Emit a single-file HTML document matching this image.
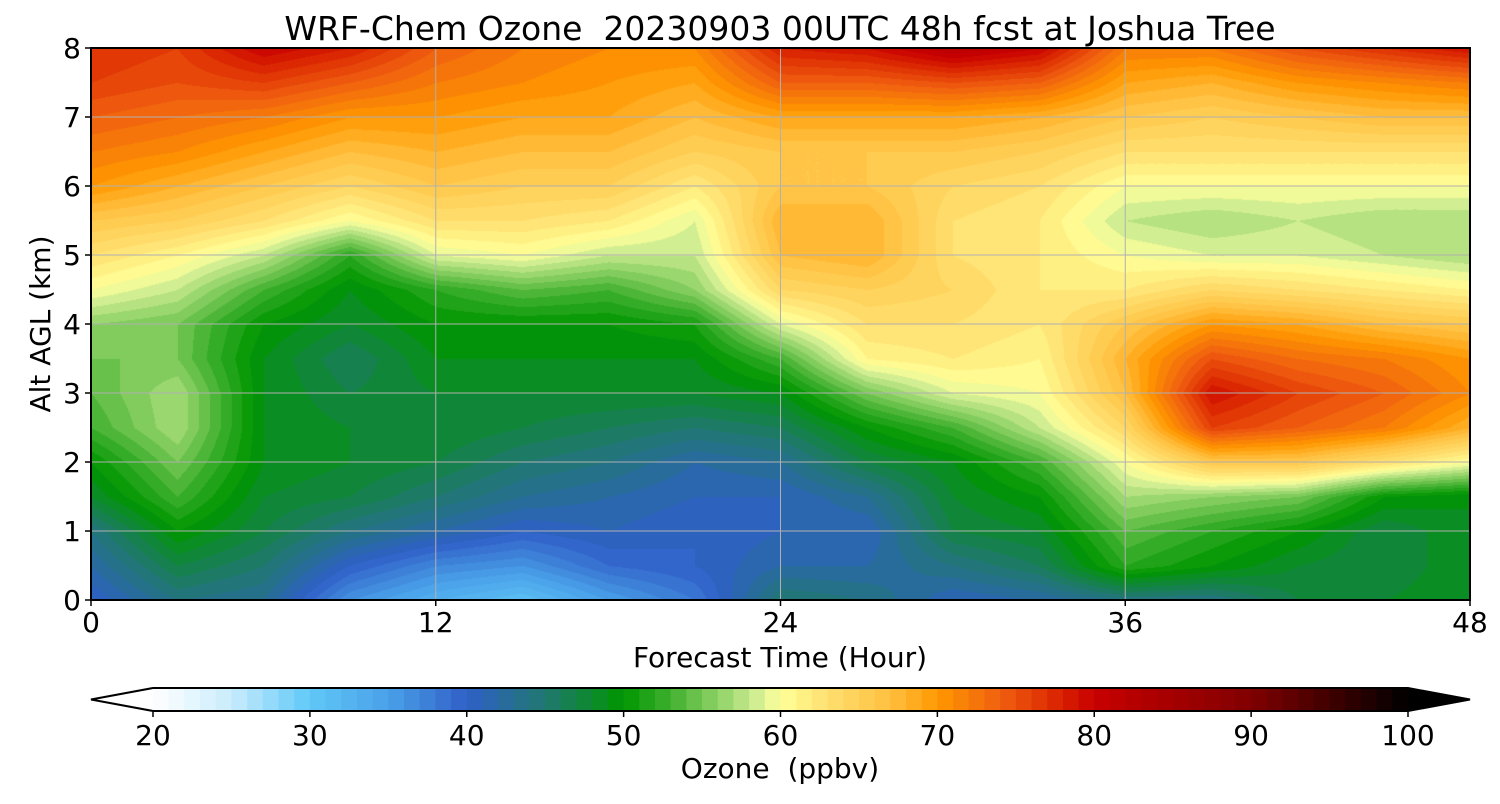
<!DOCTYPE html>
<html><head><meta charset="utf-8"><style>
body{margin:0;background:#fff;width:1500px;height:800px;overflow:hidden;font-family:"DejaVu Sans",sans-serif;}
svg text{font-family:"DejaVu Sans","Liberation Sans",sans-serif;fill:#000;white-space:pre}
</style></head><body>
<svg width="1500" height="800">
<text x="780" y="40" font-size="33" text-anchor="middle" xml:space="preserve">WRF-Chem Ozone  20230903 00UTC 48h fcst at Joshua Tree</text>
<foreignObject x="91" y="48" width="1379" height="552"><canvas xmlns="http://www.w3.org/1999/xhtml" id="plot" width="1379" height="552" style="display:block"></canvas></foreignObject>
<g id="grid"></g>
<rect x="91" y="48" width="1379" height="552" fill="none" stroke="#000" stroke-width="2"/>
<g id="xt"></g>
<g id="yt"></g>
<text x="780" y="667" font-size="28" text-anchor="middle">Forecast Time (Hour)</text>
<text transform="translate(50,324) rotate(-90)" font-size="28" text-anchor="middle">Alt AGL (km)</text>
<g id="cb"></g>
<g id="cbt"></g>
<text x="780" y="778" font-size="28" text-anchor="middle" xml:space="preserve">Ozone  (ppbv)</text>
</svg>
<script>
const hours=[0,3,6,9,12,15,18,21,24,27,30,33,36,39,42,45,48];
const alts=[0,0.5,1,1.5,2,2.5,3,3.5,4,4.5,5,5.5,6,6.5,7,7.5,8];
const ozone=[
[40,42,44,48,50,53,54,55,56,60,63,66,70,72,74,76,77],
[44,47,50,53,55,57,57,55,55,58,61,65,68,71,73,75,76],
[43,45,47,48,49,49,49,49,50,53,58,63,66,69,72,76,80],
[36,40,44,47,48,48,47,46,48,49,52,60,64,67,70,74,78],
[33,37,42,45,47,48,48,49,50,52,59,63,66,68,70,72,74],
[31,36,40,43,45,47,48,49,50,54,60,63,65,67,69,71,72],
[35,39,41,42,44,46,48,49,50,53,58,62,65,67,69,70,71],
[38,40,40,41,42,45,48,49,51,56,58,59,62,65,67,69,71],
[45,42,41,41,43,46,49,53,59,64,67,68,66,66,69,74,78],
[44,42,41,43,47,50,55,61,63,65,68,68,66,66,69,74,79],
[41,44,47,48,49,53,59,62,63,64,63,63,64,66,69,75,82],
[42,46,48,50,53,58,60,61,62,62,62,62,63,65,68,74,80],
[44,52,54,57,60,64,67,68,66,62,60,58,60,63,66,69,72],
[44,50,52,56,66,76,79,75,70,64,59,57,60,63,65,68,72],
[47,48,50,55,66,74,76,73,69,63,59,58,60,63,66,70,75],
[48,47,47,50,63,72,74,72,67,62,58,57,60,63,67,71,77],
[49,49,49,49,60,68,71,70,66,61,57,57,60,63,67,72,79]];
const xTicks=[0,12,24,36,48];
const yTicks=[0,1,2,3,4,5,6,7,8];
const cbTicks=[20,30,40,50,60,70,80,90,100];
const stops=[[20,'#ffffff'],[25,'#c8ecfc'],[30,'#60c8f8'],[35,'#4aa0e8'],[40,'#3060c8'],[45,'#207870'],[50,'#009600'],[53,'#40b030'],[57,'#a8dc78'],[59,'#e0f49a'],[60,'#ffff98'],[63,'#ffe070'],[67,'#ffc040'],[70,'#ff9800'],[74,'#f06010'],[78,'#d82000'],[80,'#c80000'],[90,'#800000'],[100,'#000000']];
const X0=91,X1=1470,Y0=48,Y1=600,CB0=153,CB1=1408;
const xs=h=>X0+(h-0)/48*(X1-X0), ys=a=>Y1-a/8*(Y1-Y0), cbx=v=>CB0+(v-20)/80*(CB1-CB0);
function hex(c){return [1,3,5].map(i=>parseInt(c.substr(i,2),16));}
function cmap(v){v=Math.max(20,Math.min(100,v));for(let i=0;i<stops.length-1;i++){const[a,ca]=stops[i],[b,cb]=stops[i+1];if(v<=b){const t=(v-a)/(b-a),A=hex(ca),B=hex(cb);return A.map((x,k)=>Math.round(x+(B[k]-x)*t));}}return [0,0,0];}
function interp(h,a){let i=0;while(i<hours.length-2&&h>hours[i+1])i++;let j=0;while(j<alts.length-2&&a>alts[j+1])j++;
const tx=(h-hours[i])/(hours[i+1]-hours[i]),ty=(a-alts[j])/(alts[j+1]-alts[j]);
return ozone[i][j]*(1-tx)*(1-ty)+ozone[i+1][j]*tx*(1-ty)+ozone[i][j+1]*(1-tx)*ty+ozone[i+1][j+1]*tx*ty;}
const cv=document.getElementById('plot'),ctx=cv.getContext('2d'),W=cv.width,H=cv.height,img=ctx.createImageData(W,H);
for(let py=0;py<H;py++){const a=(H-py)/H*8;for(let px=0;px<W;px++){const h=px/W*48;const v=Math.floor(interp(h,a))+0.5;const c=cmap(v);const o=(py*W+px)*4;img.data[o]=c[0];img.data[o+1]=c[1];img.data[o+2]=c[2];img.data[o+3]=255;}}
ctx.putImageData(img,0,0);
const NS='http://www.w3.org/2000/svg';
function mk(tag,attrs,parent){const e=document.createElementNS(NS,tag);for(const k in attrs)e.setAttribute(k,attrs[k]);parent.appendChild(e);return e;}
const grid=document.getElementById('grid'),xt=document.getElementById('xt'),yt=document.getElementById('yt');
xTicks.forEach(h=>{const l=mk('line',{x1:xs(h),x2:xs(h),y1:Y0,y2:Y1,stroke:'#b0b0b0','stroke-width':1},grid);


const tk=mk('line',{x1:xs(h),x2:xs(h),y1:Y1,y2:Y1+6,stroke:'#000','stroke-width':1.5},xt);


const t=mk('text',{x:xs(h),y:Y1+32,'font-size':28,'text-anchor':'middle'},xt);t.textContent=h;

});
yTicks.forEach(a=>{const l=mk('line',{x1:X0,x2:X1,y1:ys(a),y2:ys(a),stroke:'#b0b0b0','stroke-width':1},grid);


const tk=mk('line',{x1:X0-6,x2:X0,y1:ys(a),y2:ys(a),stroke:'#000','stroke-width':1.5},yt);


const t=mk('text',{x:X0-10,y:ys(a)+10,'font-size':28,'text-anchor':'end'},yt);t.textContent=a;

});
const cb=document.getElementById('cb'),cbt=document.getElementById('cbt');
const lt=mk('polygon',{points:`${CB0},688 ${CB0},711 91,699.5`,fill:'#ffffff'},cb);


const rt=mk('polygon',{points:`${CB1},688 ${CB1},711 1470,699.5`,fill:'#000000'},cb);


for(let v=20;v<100;v++){const c=cmap(v+0.5);const r=mk('rect',{x:cbx(v),y:688,width:cbx(v+1)-cbx(v)+0.5,height:23,fill:`rgb(${c})`},cb);

}
const ol=mk('polygon',{points:`91,699.5 ${CB0},688 ${CB1},688 1470,699.5 ${CB1},711 ${CB0},711`,fill:'none',stroke:'#000','stroke-width':2},cb);


cbTicks.forEach(v=>{const tk=mk('line',{x1:cbx(v),x2:cbx(v),y1:711,y2:717,stroke:'#000','stroke-width':1.5},cbt);


const t=mk('text',{x:cbx(v),y:745,'font-size':28,'text-anchor':'middle'},cbt);t.textContent=v;

});
</script>
</body></html>
